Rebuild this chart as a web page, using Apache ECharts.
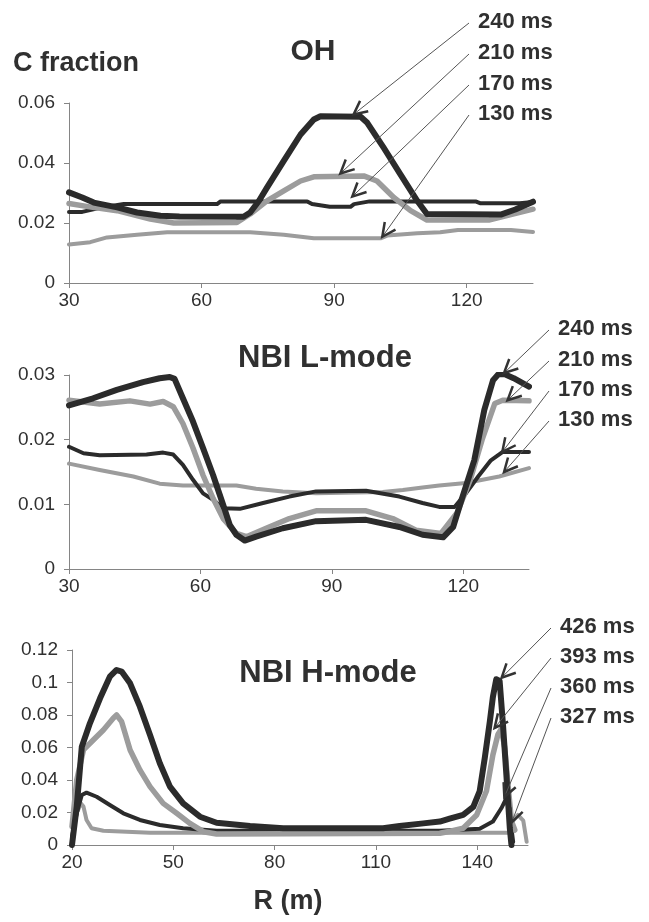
<!DOCTYPE html>
<html><head><meta charset="utf-8">
<script src="https://cdn.jsdelivr.net/npm/echarts@6/dist/echarts.min.js"></script>
<style>html,body{margin:0;padding:0;background:#fff}#c{width:649px;height:922px}</style>
</head><body><div id="c"></div>
<script>
// ---------- DATA ----------
// Panel 1: OH  (R, C fraction)
const oh240 = [[30,0.0302],[33,0.0285],[35.6,0.0268],[40.9,0.0252],[45.4,0.0235],[50.7,0.0224],[55,0.0222],[69.5,0.0221],[71,0.0235],[73,0.0274],[74.8,0.0318],[78.6,0.0407],[82.4,0.0495],[85.4,0.0545],[86.9,0.0556],[96,0.0554],[97.5,0.0534],[101.2,0.0451],[105,0.0362],[108.8,0.0274],[111,0.0230],[127.7,0.0228],[131,0.0245],[135,0.0271]];
const oh210 = [[30,0.0265],[35,0.0253],[40.9,0.0241],[48.4,0.0213],[53.7,0.0200],[68,0.0202],[71,0.0230],[74.8,0.0274],[78.6,0.0307],[82.4,0.0340],[85.4,0.0354],[96.7,0.0357],[99.7,0.0340],[103.5,0.0285],[107.3,0.0241],[111,0.0210],[125,0.0210],[130,0.0228],[135,0.0246]];
const oh170 = [[30,0.0237],[33,0.0237],[37.5,0.0252],[42.4,0.0263],[63.5,0.0263],[64.3,0.0272],[83.9,0.0272],[85,0.0263],[89,0.0254],[93.7,0.0254],[94.5,0.0263],[98,0.0272],[122,0.0272],[123,0.0266],[132,0.0266],[135,0.0270]];
const oh130 = [[30,0.0128],[34.8,0.0136],[38.6,0.0152],[45.4,0.0161],[52.2,0.0169],[71,0.0169],[78.6,0.0161],[85.4,0.0149],[100.5,0.0149],[102,0.0158],[108.8,0.0166],[114,0.0169],[118,0.0177],[130,0.0177],[135,0.0170]];
const ohTimes = ['240 ms','210 ms','170 ms','130 ms'];
const ohArrowTo = [[94.4,0.0562],[91.4,0.0365],[94.1,0.0288],[100.9,0.0154]];

// Panel 2: NBI L-mode
const lm240 = [[30,0.0253],[35.5,0.0264],[40.9,0.0277],[46.9,0.0289],[50.7,0.0295],[53,0.0297],[54.1,0.0294],[56,0.0264],[58.3,0.0228],[60.6,0.0187],[62.9,0.0145],[65.2,0.0099],[66.7,0.0068],[68.2,0.0053],[70.1,0.0044],[72.7,0.0050],[78.8,0.0063],[86.4,0.0074],[97.8,0.0076],[105.4,0.0065],[110.7,0.0053],[115.4,0.0049],[117.7,0.0065],[119.6,0.0107],[122.5,0.0168],[124.8,0.0246],[126.8,0.0292],[128,0.0301],[129.5,0.0301],[131.5,0.0295],[135,0.0282]];
const lm210 = [[30,0.0261],[37,0.0255],[43.9,0.0260],[48.5,0.0255],[51.5,0.0259],[53.8,0.0251],[56,0.0225],[58.3,0.0187],[60.6,0.0145],[62.9,0.0109],[65.2,0.0078],[68.2,0.0055],[70.5,0.0050],[75,0.0063],[80.3,0.0078],[86.4,0.0090],[97.8,0.0090],[103.9,0.0078],[109.2,0.0060],[114.9,0.0055],[118.6,0.0087],[121.6,0.0138],[124.3,0.0200],[127.2,0.0256],[129,0.0261],[135,0.0260]];
const lm170 = [[30,0.0189],[33.3,0.0179],[37,0.0176],[47.7,0.0177],[51.5,0.0180],[53.8,0.0177],[56,0.0161],[58.3,0.0138],[60.6,0.0117],[62.9,0.0107],[65.2,0.0094],[69,0.0093],[74.3,0.0102],[80.3,0.0112],[86.4,0.0120],[97.8,0.0121],[105.4,0.0112],[110.7,0.0102],[114.5,0.0096],[118,0.0096],[120.6,0.0117],[123.4,0.0143],[126.3,0.0168],[129,0.0181],[135,0.0181]];
const lm130 = [[30,0.0163],[37,0.0153],[44.7,0.0143],[50.7,0.0132],[56,0.0129],[68.2,0.0129],[72.7,0.0124],[78.8,0.0120],[86.4,0.0117],[101.6,0.0119],[106.2,0.0122],[110.7,0.0126],[114.5,0.0129],[120.6,0.0133],[128.2,0.0143],[135,0.0156]];
const lmTimes = ['240 ms','210 ms','170 ms','130 ms'];
const lmArrowTo = [[129.3,0.0303],[130.1,0.0261],[128.9,0.0181],[129.3,0.0150]];

// Panel 3: NBI H-mode
const hm426 = [[20,0.0],[21.4,0.0236],[22.9,0.0605],[25.3,0.0749],[28.3,0.0903],[31.2,0.1036],[33.2,0.1077],[34.7,0.1067],[37.2,0.0995],[40.1,0.0851],[43.1,0.0677],[46,0.0503],[49,0.0359],[52.9,0.0256],[57.9,0.0174],[62.8,0.0137],[72.7,0.0117],[82.5,0.0103],[112.1,0.0103],[117,0.0117],[124,0.0133],[128.9,0.0144],[131.8,0.0162],[135.8,0.0185],[138.8,0.0234],[140.7,0.0332],[142.2,0.0535],[143.7,0.0760],[144.6,0.0910],[145.6,0.1020],[146.6,0.1010],[147.6,0.0738],[148.6,0.0430],[149.6,0.0107],[150.1,0.0]];
const hm393 = [[20,0.0113],[21.4,0.0400],[23.4,0.0585],[26.3,0.0646],[29.3,0.0708],[32.2,0.0780],[33.2,0.0800],[34.7,0.0759],[37.2,0.0585],[40.1,0.0462],[43.1,0.0359],[47,0.0256],[51,0.0195],[54.9,0.0133],[58.9,0.0082],[62.8,0.0068],[128.9,0.0072],[132,0.0085],[135.8,0.0103],[139.8,0.0185],[142.7,0.0332],[144.6,0.0554],[146.1,0.0680],[147.1,0.0714],[148.1,0.0600],[149.1,0.0370],[150.1,0.0148],[151.1,0.0092]];
const hm360 = [[20,0.0051],[21.4,0.0195],[22.9,0.0308],[24.3,0.0322],[27.3,0.0297],[31.2,0.0246],[35.2,0.0195],[40.1,0.0154],[46,0.0123],[52.9,0.0103],[62.8,0.0088],[128.9,0.0088],[140.7,0.0100],[144.6,0.0144],[147.1,0.0226],[148.6,0.0288],[149.6,0.0185],[150.6,0.0020]];
const hm327 = [[20,0.0113],[21.4,0.0195],[22.6,0.0256],[23.4,0.0236],[24.3,0.0154],[25.8,0.0103],[29.3,0.0088],[36.2,0.0082],[43.1,0.0076],[148.6,0.0076],[149.6,0.0076],[150.6,0.0150],[152,0.0185],[153.6,0.0150],[154.6,0.0020]];
const hmTimes = ['426 ms','393 ms','360 ms','327 ms'];
const hmArrowTo = [[147.2,0.1030],[145.1,0.0720],[148.0,0.0295],[150.2,0.0140]];

// Axis ticks
const xTicksA = [30,60,90,120];
const xTicksB = [20,50,80,110,140];

// ---------- CHART ----------
const FONT = '"Liberation Sans", Arial, Helvetica, sans-serif';
const DARK = '#2b2b2b', GREY = '#9c9c9c', AXIS = '#858585', TXT = '#303030';
const chart = echarts.init(document.getElementById('c'), null, {renderer: 'canvas'});

function xAx(i, min, max, ticks) {
  return {type: 'value', gridIndex: i, min: min, max: max, interval: 30,
    axisLine: {show: true, onZero: false, lineStyle: {color: AXIS, width: 1}},
    axisTick: {show: true, length: 5, lineStyle: {color: AXIS}, customValues: ticks},
    axisLabel: {customValues: ticks, color: TXT, fontSize: 19, fontFamily: FONT, margin: 8},
    splitLine: {show: false}};
}
function yAx(i, max, interval) {
  return {type: 'value', gridIndex: i, min: 0, max: max, interval: interval,
    axisLine: {show: true, lineStyle: {color: AXIS, width: 1}},
    axisTick: {show: true, length: 5, lineStyle: {color: AXIS}},
    axisLabel: {color: TXT, fontSize: 19, fontFamily: FONT, margin: 14},
    splitLine: {show: false}};
}
function ser(i, data, color, w, z) {
  return {type: 'line', xAxisIndex: i, yAxisIndex: i, data: data, showSymbol: false, symbol: 'none',
    lineStyle: {color: color, width: w, join: 'round', cap: 'round'}, z: z, silent: true, animation: false};
}

chart.setOption({
  animation: false,
  backgroundColor: '#ffffff',
  grid: [
    {left: 69, top: 103, width: 464, height: 180},
    {left: 69, top: 375, width: 460, height: 194},
    {left: 72, top: 650, width: 456, height: 195}
  ],
  xAxis: [xAx(0, 30, 135, xTicksA), xAx(1, 30, 135, xTicksA), xAx(2, 20, 155, xTicksB)],
  yAxis: [yAx(0, 0.06, 0.02), yAx(1, 0.03, 0.01), yAx(2, 0.12, 0.02)],
  series: [
    ser(0, oh130, GREY, 4, 2), ser(0, oh170, DARK, 4, 3), ser(0, oh210, GREY, 5.5, 4), ser(0, oh240, DARK, 6, 5),
    ser(1, lm130, GREY, 4, 2), ser(1, lm170, DARK, 4, 3), ser(1, lm210, GREY, 5.5, 4), ser(1, lm240, DARK, 6, 5),
    ser(2, hm327, GREY, 4, 2), ser(2, hm360, DARK, 4, 3), ser(2, hm393, GREY, 5.5, 4), ser(2, hm426, DARK, 6, 5)
  ]
});

// ---------- TEXT + ANNOTATIONS ----------
function txt(text, x, y, size, align) {
  return {type: 'text', x: x, y: y, z: 100, silent: true,
    style: {text: text, font: 'bold ' + size + 'px ' + FONT, fontWeight: 'bold', fontSize: size, fontFamily: FONT,
      fill: TXT, align: align, textAlign: align, verticalAlign: 'middle', textVerticalAlign: 'middle'}};
}
const gfx = [
  txt('C fraction', 13, 64, 27, 'left'),
  txt('OH', 313, 52, 30, 'center'),
  txt('NBI L-mode', 325, 358, 31, 'center'),
  txt('NBI H-mode', 328, 673, 31, 'center'),
  txt('R (m)', 288, 902, 27, 'center')
];
const annot = [
  {grid: 0, x: 478, ys: [22, 53, 84, 114], times: ohTimes, to: ohArrowTo},
  {grid: 1, x: 558, ys: [329, 360, 390, 420], times: lmTimes, to: lmArrowTo},
  {grid: 2, x: 560, ys: [627, 657, 687, 717], times: hmTimes, to: hmArrowTo}
];
annot.forEach(function (a) {
  a.times.forEach(function (t, k) {
    const y = a.ys[k];
    gfx.push(txt(t, a.x, y, 22, 'left'));
    const tip = chart.convertToPixel({gridIndex: a.grid}, a.to[k]);
    const sx = a.x - 9, sy = y + 1;
    gfx.push({type: 'line', z: 90, silent: true, shape: {x1: sx, y1: sy, x2: tip[0], y2: tip[1]},
      style: {stroke: '#555', lineWidth: 1}});
    const dx = sx - tip[0], dy = sy - tip[1], L = Math.sqrt(dx * dx + dy * dy);
    const ux = dx / L, uy = dy / L, ang = 26 * Math.PI / 180, len = 15;
    const c = Math.cos(ang), s = Math.sin(ang);
    const a1 = [tip[0] + len * (ux * c - uy * s), tip[1] + len * (ux * s + uy * c)];
    const a2 = [tip[0] + len * (ux * c + uy * s), tip[1] + len * (-ux * s + uy * c)];
    gfx.push({type: 'polyline', z: 91, silent: true, shape: {points: [a1, tip, a2]},
      style: {stroke: '#333', lineWidth: 2.5, fill: null}});
  });
});
chart.setOption({graphic: gfx});
</script>
</body></html>
